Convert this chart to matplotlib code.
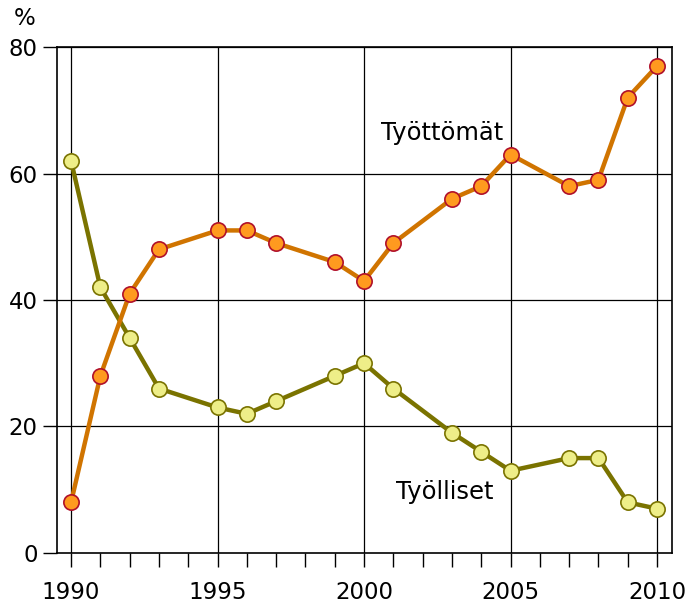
import numpy as np
import matplotlib.pyplot as plt

# years with observations
years = [1990, 1991, 1992, 1993, 1995, 1996, 1997, 1999, 2000, 2001,
         2003, 2004, 2005, 2007, 2008, 2009, 2010]

# osuudet prosentteina
tyottomat = [8, 28, 41, 48, 51, 51, 49, 46, 43, 49, 56, 58, 63, 58, 59, 72, 77]
tyolliset = [62, 42, 34, 26, 23, 22, 24, 28, 30, 26, 19, 16, 13, 15, 15, 8, 7]

xticks = [1990, 1995, 2000, 2005, 2010]
yticks = [0, 20, 40, 60, 80]

fig = plt.figure(figsize=(6.91, 6.03), dpi=100)
ax = fig.add_axes([0.0825, 0.083, 0.89, 0.839])

# grid lines
for x in xticks:
    ax.axvline(x, color='black', lw=0.9, zorder=1)
for y in yticks[1:]:
    ax.axhline(y, color='black', lw=0.9, zorder=1)

ax.plot(years, tyolliset, color='#7a7300', lw=3.2, marker='o', ms=11,
        mfc='#eeee88', mec='#7a7300', mew=1.2, zorder=3)
ax.plot(years, tyottomat, color='#d07400', lw=3.2, marker='o', ms=11,
        mfc='#ff9a1f', mec='#b0102a', mew=1.2, zorder=4)

ax.text(2002.65, 66.4, 'Työttömät', fontsize=17.5, ha='center', va='center')
ax.text(2002.76, 9.7, 'Työlliset', fontsize=17.5, ha='center', va='center')

ax.set_xlim(1989.52, 2010.51)
ax.set_ylim(0, 80)
ax.set_xticks(xticks)
ax.set_xticks(range(1990, 2011), minor=True)
ax.set_yticks(yticks)
ax.tick_params(axis='both', labelsize=16.5, length=10, width=1, direction='out')
ax.tick_params(axis='x', which='minor', length=10, width=1)
ax.tick_params(axis='x', pad=10)
ax.tick_params(axis='y', pad=4)
for s in ax.spines.values():
    s.set_linewidth(1.2)

fig.text(0.035, 0.97, '%', fontsize=16.5, ha='center', va='center')

fig.savefig('out.png', dpi=100)
